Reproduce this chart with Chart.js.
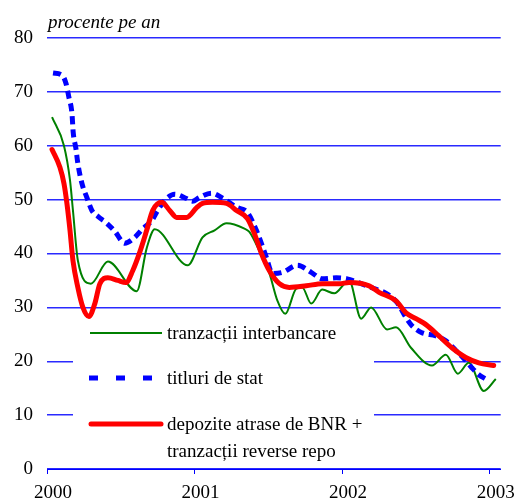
<!DOCTYPE html>
<html>
<head>
<meta charset="utf-8">
<script src="https://cdn.jsdelivr.net/npm/chart.js@4/dist/chart.umd.min.js"></script>
<style>
  html, body { margin: 0; padding: 0; background: #fff; }
  #wrap { width: 517px; height: 502px; }
</style>
</head>
<body>
<div id="wrap"><canvas id="c" width="517" height="502"></canvas></div>
<script>
// x positions are months since January 2000
const xTickValues = [0, 12, 24, 36];
const xTickLabels = ["2000", "2001", "2002", "2003"];
const yAxisTitle = "procente pe an";

const interbancareX = [0.41, 1.38, 1.87, 2.11, 2.51, 3.57, 4.95, 7.30, 8.11, 8.76, 11.44, 12.65, 13.63, 14.60, 16.06, 16.46, 17.27, 18.09, 18.73, 19.38, 20.28, 20.76, 21.49, 22.38, 23.36, 24.57, 25.55, 26.36, 27.66, 28.39, 29.60, 31.31, 32.44, 33.41, 34.31, 35.52, 36.50];
const interbancareY = [65.3, 60, 53.6, 48, 38.7, 34.4, 38.5, 33, 41, 44.5, 37.8, 43, 44.3, 45.6, 44.6, 44, 40.5, 36.3, 31.3, 28.8, 33.5, 33.7, 30.7, 33.3, 32.6, 35, 27.9, 30, 25.9, 26.3, 22.5, 19.2, 21.2, 17.7, 19.7, 14.5, 16.7];

const titluriX = [0.49, 1.22, 1.54, 1.78, 2.03, 2.13, 2.35, 2.51, 2.84, 3.24, 3.65, 4.14, 4.87, 5.52, 6.33, 7.14, 7.79, 8.52, 9.00, 9.73, 10.38, 11.35, 11.84, 12.41, 13.38, 14.19, 15.41, 16.30, 17.03, 17.84, 18.33, 19.14, 20.36, 21.49, 22.38, 23.52, 24.41, 25.55, 26.60, 27.58, 28.47, 29.20, 29.68, 30.49, 31.63, 32.44, 33.25, 33.90, 34.55, 35.12, 35.68];
const titluriY = [73.5, 73.1, 71.6, 69, 66, 62.5, 59.5, 56.7, 53, 50.4, 48, 46.9, 45.6, 44.1, 41.9, 43, 44.6, 46.1, 48, 50.2, 51, 50.2, 49.7, 50.4, 51.2, 50.4, 48.6, 47.6, 44.3, 39.3, 36.3, 36.5, 37.8, 36.5, 35.3, 35.5, 35.3, 34.4, 33.5, 32.6, 30.9, 28.1, 26.6, 25.3, 24.7, 23.8, 22, 20.5, 18.8, 17.5, 16.7];

const depoziteX = [0.41, 1.05, 1.38, 1.62, 1.87, 2.11, 2.51, 2.92, 3.41, 3.89, 4.30, 4.95, 5.76, 6.41, 6.97, 7.54, 8.11, 8.60, 9.33, 9.98, 10.54, 11.35, 12.17, 12.65, 13.46, 14.60, 15.41, 16.30, 16.87, 17.44, 18.09, 18.90, 19.71, 21.09, 22.38, 23.76, 24.57, 26.20, 27.01, 28.39, 29.20, 30.01, 30.82, 31.87, 32.93, 34.06, 35.12, 36.33];
const depoziteY = [59.3, 56, 53, 49.3, 44.3, 38.7, 33.7, 30, 28.3, 30.7, 34.4, 35.5, 35, 34.6, 36.8, 40.2, 44.3, 48, 49.5, 48, 46.7, 46.7, 48.5, 49.3, 49.5, 49.3, 48, 46.5, 43.7, 40, 36.8, 34.4, 33.7, 34, 34.4, 34.4, 34.6, 34, 32.8, 31.2, 29, 27.9, 26.8, 24.7, 22.5, 20.7, 19.7, 19.2];

const seriesNames = ["tranzacții interbancare", "titluri de stat", "depozite atrase de BNR +", "tranzacții reverse repo"];

function pts(xs, ys) { return xs.map((x, i) => ({ x: x, y: ys[i] })); }

const SERIF = "'Liberation Serif', 'Times New Roman', serif";
const BLUE = '#0000ff';
const GRID = '#2a2aff';

const overlayPlugin = {
  id: 'overlay',
  beforeDatasetsDraw(chart) {
    const ctx = chart.ctx;
    ctx.save();
    ctx.fillStyle = '#ffffff';
    ctx.fillRect(73, 318, 301, 144);
    ctx.restore();
  },
  afterDraw(chart) {
    const ctx = chart.ctx;
    ctx.save();
    ctx.fillStyle = '#000';
    ctx.font = "italic 19px " + SERIF;
    ctx.textBaseline = 'alphabetic';
    ctx.textAlign = 'left';
    ctx.fillText(yAxisTitle, 48, 28);

    ctx.lineCap = 'butt';
    ctx.strokeStyle = '#008000';
    ctx.lineWidth = 2;
    ctx.beginPath(); ctx.moveTo(90, 333); ctx.lineTo(162, 333); ctx.stroke();

    ctx.strokeStyle = BLUE;
    ctx.lineWidth = 5;
    ctx.setLineDash([9, 18]);
    ctx.beginPath(); ctx.moveTo(89, 378); ctx.lineTo(153, 378); ctx.stroke();
    ctx.setLineDash([]);

    ctx.strokeStyle = '#ff0000';
    ctx.lineWidth = 5;
    ctx.lineCap = 'round';
    ctx.beginPath(); ctx.moveTo(91, 424); ctx.lineTo(161, 424); ctx.stroke();

    ctx.font = "19px " + SERIF;
    ctx.fillStyle = '#000';
    ctx.fillText(seriesNames[0], 167, 339);
    ctx.fillText(seriesNames[1], 167, 384);
    ctx.fillText(seriesNames[2], 167, 430);
    ctx.fillText(seriesNames[3], 167, 457);
    ctx.restore();
  }
};

new Chart(document.getElementById('c'), {
  type: 'line',
  data: {
    datasets: [
      {
        label: seriesNames[0],
        data: pts(interbancareX, interbancareY),
        borderColor: '#008000',
        borderWidth: 2,
        pointRadius: 0,
        cubicInterpolationMode: 'monotone',
        fill: false,
        order: 3
      },
      {
        label: seriesNames[1],
        data: pts(titluriX, titluriY),
        borderColor: BLUE,
        borderWidth: 5,
        borderDash: [8, 5],
        pointRadius: 0,
        cubicInterpolationMode: 'monotone',
        fill: false,
        order: 2
      },
      {
        label: seriesNames[2] + ' ' + seriesNames[3],
        data: pts(depoziteX, depoziteY),
        borderColor: '#ff0000',
        borderWidth: 5,
        borderCapStyle: 'round',
        borderJoinStyle: 'round',
        pointRadius: 0,
        cubicInterpolationMode: 'monotone',
        fill: false,
        order: 1
      }
    ]
  },
  options: {
    responsive: false,
    animation: false,
    devicePixelRatio: 1,
    layout: { padding: { top: 38, right: 15, left: 0, bottom: 0 } },
    plugins: {
      legend: { display: false },
      title: { display: false },
      tooltip: { enabled: false }
    },
    scales: {
      x: {
        type: 'linear',
        min: 0,
        max: 36.9,
        afterBuildTicks(scale) {
          scale.ticks = xTickValues.map(v => ({ value: v }));
        },
        afterFit(scale) { scale.height = 33; },
        ticks: {
          autoSkip: false,
          maxRotation: 0,
          padding: 8,
          labelOffset: 6,
          color: '#000',
          font: { family: SERIF, size: 19 },
          callback(value) {
            const i = xTickValues.indexOf(value);
            return i >= 0 ? xTickLabels[i] : '';
          }
        },
        grid: {
          drawOnChartArea: false,
          drawTicks: true,
          tickLength: 5,
          color: BLUE,
          tickColor: BLUE,
          lineWidth: 1
        },
        border: { display: true, color: BLUE, width: 1 }
      },
      y: {
        min: 0,
        max: 80,
        afterFit(scale) { scale.width = 47; },
        ticks: {
          stepSize: 10,
          padding: 14,
          color: '#000',
          font: { family: SERIF, size: 19 }
        },
        grid: {
          color: GRID,
          lineWidth: 1.4,
          drawTicks: false
        },
        border: { display: false }
      }
    }
  },
  plugins: [overlayPlugin]
});
</script>
</body>
</html>
